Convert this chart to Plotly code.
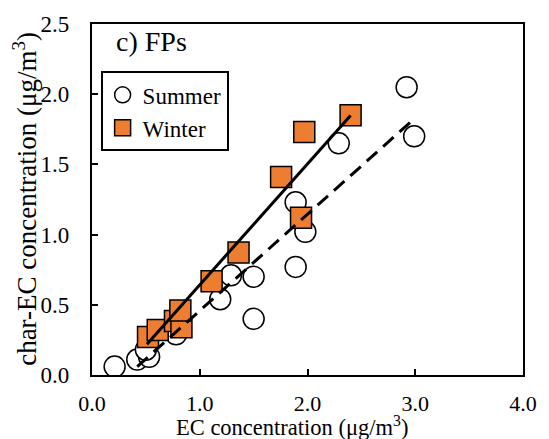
import plotly.graph_objects as go
import numpy as np

summer_x = [0.21, 0.42, 0.53, 0.50, 0.78, 1.19, 1.29, 1.50, 1.50, 1.89, 1.89, 1.98, 2.29, 2.92, 2.99]
summer_y = [0.06, 0.11, 0.13, 0.18, 0.29, 0.54, 0.71, 0.70, 0.40, 0.77, 1.23, 1.02, 1.65, 2.05, 1.70]

winter_x = [0.52, 0.61, 0.77, 0.83, 0.82, 1.11, 1.36, 1.755, 1.97, 1.94, 2.40]
winter_y = [0.27, 0.32, 0.385, 0.34, 0.46, 0.667, 0.873, 1.41, 1.73, 1.12, 1.85]

# regression fits (slope, intercept, x range)
winter_fit = (0.862, -0.22, [0.51, 2.40])
summer_fit = (0.687, -0.229, [0.42, 2.99])

FONT = "Liberation Serif"

fig = go.Figure()
fig.add_trace(go.Scatter(x=summer_x, y=summer_y, mode="markers", name="Summer",
                         marker=dict(symbol="circle", size=21, color="white",
                                     line=dict(color="black", width=1.5))))
fig.add_trace(go.Scatter(x=winter_x, y=winter_y, mode="markers", name="Winter",
                         marker=dict(symbol="square", size=21, color="#ED7D31",
                                     line=dict(color="black", width=1.5))))

wx = np.array(winter_fit[2])
fig.add_trace(go.Scatter(x=wx, y=winter_fit[0] * wx + winter_fit[1], mode="lines",
                         line=dict(color="black", width=3), showlegend=False))
sx = np.array(summer_fit[2])
fig.add_trace(go.Scatter(x=sx, y=summer_fit[0] * sx + summer_fit[1], mode="lines",
                         line=dict(color="black", width=3, dash="14px,8px"), showlegend=False))

axis_common = dict(showline=True, linecolor="black", linewidth=2.3, mirror=True,
                   ticks="inside", ticklen=6, tickwidth=2, tickcolor="black",
                   showgrid=False, zeroline=False)

fig.update_xaxes(range=[0, 4], dtick=1.0, tickformat=".1f", ticklabelstandoff=7,
                 tickfont=dict(family=FONT, size=22, color="black"), **axis_common)
fig.update_yaxes(range=[0, 2.5], dtick=0.5, tickformat=".1f", ticklabelstandoff=16,
                 tickfont=dict(family=FONT, size=23, color="black"), **axis_common)

fig.add_annotation(text="EC concentration (μg/m<sup>3</sup>)", x=0.4636, y=-0.146,
                   xref="paper", yref="paper", xanchor="center", yanchor="middle",
                   showarrow=False, font=dict(family=FONT, size=22.5, color="black"))
fig.add_annotation(text="char-EC concentration (μg/m<sup>3</sup>)", x=-0.1545, y=0.503,
                   xref="paper", yref="paper", xanchor="center", yanchor="middle",
                   textangle=-90, showarrow=False, font=dict(family=FONT, size=27, color="black"))

fig.add_annotation(text="c) FPs", x=0.05, y=1.0, xref="paper", yref="paper",
                   xanchor="left", yanchor="top", showarrow=False,
                   font=dict(family=FONT, size=28, color="black"))

fig.update_layout(
    width=549, height=439,
    margin=dict(l=92, r=17, t=19, b=64),
    plot_bgcolor="white", paper_bgcolor="white",
    legend=dict(x=0.02, y=0.865, xanchor="left", yanchor="top",
                bordercolor="black", borderwidth=2, bgcolor="white",
                font=dict(family=FONT, size=23, color="black"),
                itemwidth=30, tracegroupgap=0),
)

fig.write_html("out.html")
